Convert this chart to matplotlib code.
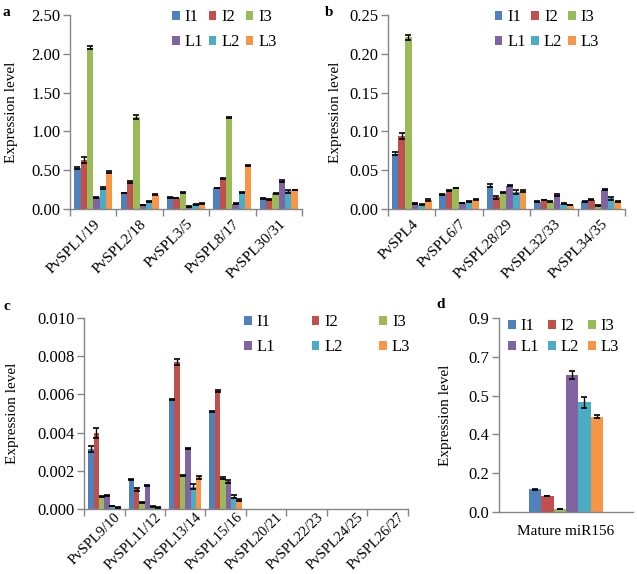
import numpy as np
import matplotlib
matplotlib.use("Agg")
import matplotlib.pyplot as plt
import matplotlib.transforms as mtransforms
from matplotlib.ticker import FormatStrFormatter

plt.rcParams['font.family'] = ['Liberation Serif', 'DejaVu Serif']

series = ['I1', 'I2', 'I3', 'L1', 'L2', 'L3']
colors = ['#4F81BD', '#C0504D', '#9BBB59', '#8064A2', '#4BACC6', '#F79646']

# Panel a
cats_a = ['PvSPL1/19', 'PvSPL2/18', 'PvSPL3/5', 'PvSPL8/17', 'PvSPL30/31']
vals_a = [[0.53, 0.63, 2.08, 0.15, 0.27, 0.48],
          [0.205, 0.35, 1.19, 0.05, 0.094, 0.185],
          [0.15, 0.14, 0.21, 0.03, 0.06, 0.068],
          [0.27, 0.39, 1.18, 0.068, 0.21, 0.56],
          [0.137, 0.12, 0.20, 0.36, 0.23, 0.245]]
err_a = [[0.01, 0.04, 0.02, 0.01, 0.01, 0.015],
         [0.005, 0.01, 0.025, 0.005, 0.005, 0.005],
         [0.005, 0.005, 0.005, 0.003, 0.003, 0.003],
         [0.005, 0.005, 0.01, 0.005, 0.01, 0.005],
         [0.005, 0.005, 0.005, 0.015, 0.02, 0.005]]

# Panel b
cats_b = ['PvSPL4', 'PvSPL6/7', 'PvSPL28/29', 'PvSPL32/33', 'PvSPL34/35']
vals_b = [[0.0714, 0.094, 0.221, 0.0068, 0.0056, 0.0115],
          [0.019, 0.024, 0.027, 0.0077, 0.010, 0.012],
          [0.030, 0.015, 0.021, 0.030, 0.022, 0.023],
          [0.0094, 0.0115, 0.0094, 0.018, 0.0068, 0.005],
          [0.010, 0.012, 0.0047, 0.025, 0.0137, 0.0098]]
err_b = [[0.002, 0.004, 0.003, 0.0005, 0.0005, 0.001],
         [0.0005, 0.0005, 0.0005, 0.0005, 0.0005, 0.0005],
         [0.002, 0.002, 0.001, 0.0005, 0.003, 0.001],
         [0.0005, 0.0005, 0.0005, 0.001, 0.0005, 0.0005],
         [0.0005, 0.0005, 0.0005, 0.001, 0.002, 0.0005]]

# Panel c
cats_c = ['PvSPL9/10', 'PvSPL11/12', 'PvSPL13/14', 'PvSPL15/16',
          'PvSPL20/21', 'PvSPL22/23', 'PvSPL24/25', 'PvSPL26/27']
vals_c = [[0.00315, 0.00397, 0.00066, 0.00072, 0.00017, 0.0001],
          [0.00156, 0.00105, 0.00035, 0.00124, 0.00014, 0.0001],
          [0.00572, 0.0077, 0.00175, 0.00318, 0.00117, 0.00166],
          [0.00511, 0.00616, 0.00163, 0.00145, 0.00065, 0.00049],
          [0, 0, 0, 0, 0, 0],
          [0, 0, 0, 0, 0, 0],
          [0, 0, 0, 0, 0, 0],
          [0, 0, 0, 0, 0, 0]]
err_c = [[0.00015, 0.00025, 0.00003, 0.00003, 0.00002, 0.00002],
         [0.00004, 0.00008, 0.00003, 0.00003, 0.00002, 0.00002],
         [0.00003, 0.00018, 0.00003, 0.00003, 0.00012, 0.00006],
         [0.00003, 0.00005, 0.00005, 0.00006, 0.00008, 0.00006],
         [0, 0, 0, 0, 0, 0],
         [0, 0, 0, 0, 0, 0],
         [0, 0, 0, 0, 0, 0],
         [0, 0, 0, 0, 0, 0]]

# Panel d
cats_d = ['Mature miR156']
vals_d = [[0.106, 0.074, 0.014, 0.635, 0.508, 0.442]]
err_d = [[0.003, 0.002, 0.002, 0.02, 0.027, 0.008]]

fig = plt.figure(figsize=(6.37, 5.74), dpi=100)

GRAY = '#868686'


def draw(ax, cats, vals, errs, group_w, ylim, yticks, fmt, rot=45, pad=6, xfs=11):
    n = len(cats)
    x = np.arange(n)
    vals = np.array(vals)
    errs = np.array(errs)
    w = group_w / len(series)
    handles = []
    for i, s in enumerate(series):
        pos = x - group_w / 2 + w * (i + 0.5)
        h = ax.bar(pos, vals[:, i], width=w, color=colors[i], label=s, zorder=2)
        handles.append(h)
        mask = vals[:, i] > 0
        ax.errorbar(pos[mask], vals[mask, i], yerr=errs[mask, i], fmt='none',
                    ecolor='black', elinewidth=1, capsize=2.3, capthick=1.2, zorder=3)
    ax.set_xlim(-0.5, n - 0.5)
    ax.set_ylim(*ylim)
    ax.set_yticks(yticks)
    ax.yaxis.set_major_formatter(FormatStrFormatter(fmt))
    for sp in ['top', 'right']:
        ax.spines[sp].set_visible(False)
    for sp in ['left', 'bottom']:
        ax.spines[sp].set_color(GRAY)
        ax.spines[sp].set_linewidth(1)
    ax.set_xticks(x)
    if rot:
        ax.set_xticklabels(cats, rotation=45, ha='right', rotation_mode='anchor', fontsize=xfs)
    else:
        ax.set_xticklabels(cats, fontsize=xfs)
    ax.tick_params(axis='x', length=0, pad=pad)
    if n > 1:
        ax.set_xticks(np.arange(n + 1) - 0.5, minor=True)
        ax.tick_params(axis='x', which='minor', length=5, color=GRAY, width=1)
    ax.tick_params(axis='y', length=5, color=GRAY, width=1, labelsize=12, pad=2)
    ax.set_ylabel('Expression level', fontsize=11)
    # row-major legend order for 3 columns x 2 rows
    order = [0, 3, 1, 4, 2, 5]
    return [handles[k] for k in order], [series[k] for k in order]


def legend(ax, hl, anchor, cs, ls):
    ax.legend(hl[0], hl[1], ncol=3, loc='upper left', bbox_to_anchor=anchor, frameon=False,
              fontsize=12, handlelength=0.45, handleheight=0.45, handletextpad=0.3,
              columnspacing=cs, labelspacing=ls, borderpad=0.0, borderaxespad=0.0)


# a
ax_a = fig.add_axes([0.110, 0.636, 0.364, 0.338])
hl = draw(ax_a, cats_a, vals_a, err_a, 0.82, (0, 2.5), np.arange(0, 2.51, 0.5), '%.2f')
ax_a.yaxis.set_label_coords(-0.225, 0.5)
legend(ax_a, hl, (0.44, 1.03), 0.35, 0.55)

# b
ax_b = fig.add_axes([0.609, 0.636, 0.372, 0.338])
hl = draw(ax_b, cats_b, vals_b, err_b, 0.84, (0, 0.25), np.arange(0, 0.251, 0.05), '%.2f')
ax_b.yaxis.set_label_coords(-0.195, 0.5)
legend(ax_b, hl, (0.45, 1.03), 0.35, 0.55)

# c
ax_c = fig.add_axes([0.132, 0.113, 0.508, 0.333])
hl = draw(ax_c, cats_c, vals_c, err_c, 0.80, (0, 0.010), np.arange(0, 0.0101, 0.002), '%.3f',
          pad=1, xfs=10.5)
ax_c.yaxis.set_label_coords(-0.2, 0.5)
legend(ax_c, hl, (0.495, 1.02), 2.2, 0.55)
shift = mtransforms.ScaledTranslation(10 / 100, 0, fig.dpi_scale_trans)
for lab in ax_c.get_xticklabels():
    lab.set_transform(lab.get_transform() + shift)

# d
ax_d = fig.add_axes([0.783, 0.108, 0.211, 0.338])
hl = draw(ax_d, cats_d, vals_d, err_d, 0.55, (0, 0.9), np.arange(0, 0.91, 0.18), '%.1f', rot=0)
ax_d.yaxis.set_label_coords(-0.35, 0.5)
ax_d.tick_params(axis='x', pad=9)
legend(ax_d, hl, (0.07, 1.0), 0.55, 0.3)

fig.text(0.004, 1 - 12 / 574, 'a', fontsize=11, fontweight='bold', va='center')
fig.text(325 / 637, 1 - 13 / 574, 'b', fontsize=11, fontweight='bold', va='center')
fig.text(4 / 637, 1 - 307 / 574, 'c', fontsize=11, fontweight='bold', va='center')
fig.text(436 / 637, 1 - 305 / 574, 'd', fontsize=11, fontweight='bold', va='center')

fig.savefig('out.png', dpi=100)
